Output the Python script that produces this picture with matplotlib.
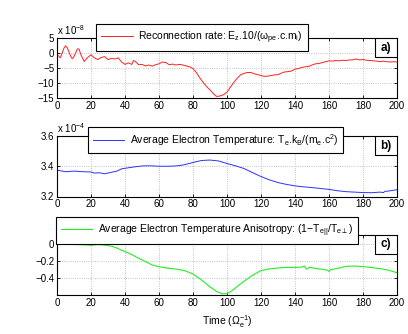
import matplotlib
matplotlib.use("Agg")
import matplotlib.pyplot as plt
from matplotlib.patches import Rectangle

plt.rcParams["font.family"] = ["Liberation Sans", "DejaVu Sans"]
plt.rcParams["mathtext.fontset"] = "custom"
plt.rcParams["mathtext.rm"] = "Liberation Sans"
plt.rcParams["mathtext.it"] = "Liberation Sans"
plt.rcParams["mathtext.default"] = "regular"

# a) reconnection rate, in units of 1e-8
t_rate = [0, 2, 4, 5, 6, 8, 9, 10, 12, 13, 14, 16, 18, 20, 22, 24, 26, 28, 30, 32,
          34, 36, 38, 40, 42, 44, 45, 46, 48, 50, 52, 54, 56, 58, 60, 62, 64, 66, 68, 70,
          72, 74, 76, 78, 80, 82, 84, 86, 88, 90, 92, 94, 96, 98, 100, 102, 104, 106, 108, 110,
          112, 114, 116, 118, 120, 122, 124, 126, 128, 130, 132, 134, 136, 138, 140, 142, 144, 146, 148, 150,
          152, 154, 156, 158, 160, 162, 164, 166, 168, 170, 172, 174, 176, 178, 180, 182, 184, 186, 188, 190,
          192, 194, 196, 198, 200]
rate = [-0.5, -1.6, 1.5, 2.4, 1.8, -1.0, -1.9, -1.2, 1.4, 1.3, -0.5, -2.8, -1.5, -0.6, -1.6, -2.2, -1.5, -1.2, -2.2, -1.8,
        -2.0, -1.6, -3.0, -3.8, -3.3, -3.8, -2.5, -2.8, -3.9, -3.8, -4.3, -4.0, -4.4, -3.9, -3.6, -3.0, -3.2, -3.9, -3.7, -4.0,
        -3.8, -4.0, -4.3, -4.6, -5.2, -6.5, -8.3, -9.8, -11.2, -12.3, -13.6, -14.5, -14.3, -13.9, -13.0, -11.4, -9.8, -8.4, -7.3, -6.8,
        -6.5, -6.5, -6.9, -7.2, -7.5, -7.8, -7.7, -7.5, -7.3, -7.2, -6.7, -6.3, -6.2, -6.0, -5.4, -5.2, -4.8, -4.6, -4.5, -4.0,
        -3.6, -3.5, -3.2, -2.9, -2.6, -2.7, -2.5, -2.6, -2.4, -2.5, -2.3, -2.3, -2.0, -2.3, -2.2, -2.4, -2.5, -2.6, -2.7, -2.9,
        -2.7, -2.9, -3.0, -2.9, -3.0]

# b) average electron temperature, in units of 1e-4
t_temp = [0, 5, 10, 15, 20, 22, 25, 28, 32, 35, 38, 42, 45, 50, 55, 60, 65, 70, 75, 80,
          85, 90, 95, 100, 105, 110, 115, 120, 125, 130, 135, 140, 145, 150, 155, 160, 165, 170, 175, 180,
          185, 190, 192, 193, 195, 200]
temp = [3.374, 3.364, 3.368, 3.364, 3.362, 3.355, 3.357, 3.350, 3.360, 3.367, 3.383, 3.390, 3.395, 3.402, 3.403, 3.400, 3.400, 3.402, 3.410, 3.425,
        3.438, 3.441, 3.435, 3.418, 3.403, 3.385, 3.358, 3.332, 3.310, 3.292, 3.280, 3.270, 3.264, 3.259, 3.253, 3.247, 3.238, 3.232, 3.229, 3.226,
        3.225, 3.229, 3.226, 3.234, 3.236, 3.245]

# c) temperature anisotropy
t_aniso = [0, 4, 8, 12, 16, 20, 24, 28, 32, 35, 38, 42, 46, 50, 53, 56, 60, 65, 70, 75,
           80, 85, 90, 94, 97, 100, 103, 106, 110, 115, 120, 125, 130, 135, 140, 144, 145.5, 147, 148.5, 152,
           156, 159, 160, 161, 165, 170, 175, 180, 185, 190, 195, 200]
aniso = [0.0, 0.003, -0.010, -0.012, -0.015, -0.020, -0.012, -0.018, -0.030, -0.050, -0.078, -0.110, -0.150, -0.190, -0.220, -0.250, -0.270, -0.287, -0.297, -0.315,
         -0.355, -0.425, -0.505, -0.560, -0.585, -0.585, -0.550, -0.500, -0.440, -0.370, -0.315, -0.295, -0.285, -0.278, -0.278, -0.275, -0.262, -0.300, -0.275, -0.290,
         -0.300, -0.310, -0.325, -0.305, -0.290, -0.266, -0.262, -0.268, -0.280, -0.292, -0.310, -0.340]

W, H = 408, 334
fig = plt.figure(figsize=(W / 100, H / 100), dpi=100)


def make_axes(top_px, bottom_px):
    return fig.add_axes([57 / W, (H - bottom_px) / H, 340 / W, (bottom_px - top_px) / H])


def style(ax, ylim, yticks, ylabels):
    ax.set_xlim(0, 200)
    ax.set_xticks(range(0, 201, 20))
    ax.set_ylim(*ylim)
    ax.set_yticks(yticks)
    ax.set_yticklabels(ylabels)
    ax.tick_params(direction="in", labelsize=7, length=2.5, width=0.6,
                   top=True, right=True, pad=2)
    ax.grid(True, linestyle=":", color="#b0b0b0", linewidth=0.6)
    for s in ax.spines.values():
        s.set_linewidth(0.8)


def tag(ax, label, w=22, h=19):
    wa, ha = w / 340, h / 60
    ax.add_patch(Rectangle((1 - wa, 1 - ha), wa, ha, transform=ax.transAxes,
                           fc="white", ec="black", lw=0.8, zorder=5))
    ax.text(1 - wa / 2, 1 - ha / 2, label, transform=ax.transAxes, ha="center",
            va="center", fontsize=8.5, fontweight="bold", zorder=6)


def legend(ax, x0, y1):
    leg = ax.legend(loc="upper left", bbox_to_anchor=(x0, y1), fontsize=7.5,
                    frameon=True, fancybox=False, edgecolor="black",
                    framealpha=1, handlelength=3.0, borderpad=0.5,
                    handletextpad=0.5, borderaxespad=0)
    leg.get_frame().set_linewidth(0.8)
    leg.set_zorder(10)


# a)
ax1 = make_axes(38, 98)
ax1.plot(t_rate, rate, color="#ff2020", lw=0.7,
         label=r"Reconnection rate: E$_z$.10/($\omega_{pe}$.c.m$_i$)")
style(ax1, (-15, 5), [-15, -10, -5, 0, 5], ["\u221215", "\u221210", "\u22125", "0", "5"])
ax1.text(0, 1.02, r"x 10$^{-8}$", transform=ax1.transAxes, fontsize=7, va="bottom")
legend(ax1, 0.115, 1.233)
tag(ax1, "a)")

# b)
ax2 = make_axes(136, 196.5)
ax2.plot(t_temp, temp, color="#3030ff", lw=0.7,
         label=r"Average Electron Temperature: T$_e$.k$_B$/(m$_e$.c$^2$)")
style(ax2, (3.2, 3.6), [3.2, 3.4, 3.6], ["3.2", "3.4", "3.6"])
ax2.text(0, 1.02, r"x 10$^{-4}$", transform=ax2.transAxes, fontsize=7, va="bottom")
legend(ax2, 0.091, 1.15)
tag(ax2, "b)")

# c)
ax3 = make_axes(235, 295)
ax3.plot(t_aniso, aniso, color="#22ee22", lw=0.8,
         label=r"Average Electron Temperature Anisotropy: (1$-$T$_{e||}$/T$_{e\perp}$)")
style(ax3, (-0.6, 0.1), [-0.4, -0.2, 0], ["\u22120.4", "\u22120.2", "0"])
ax3.set_xlabel(r"Time ($\Omega_e^{-1}$)", fontsize=7.5, labelpad=4)
legend(ax3, -0.003, 1.3)
tag(ax3, "c)")

fig.savefig("out.png", dpi=100, facecolor="white")
